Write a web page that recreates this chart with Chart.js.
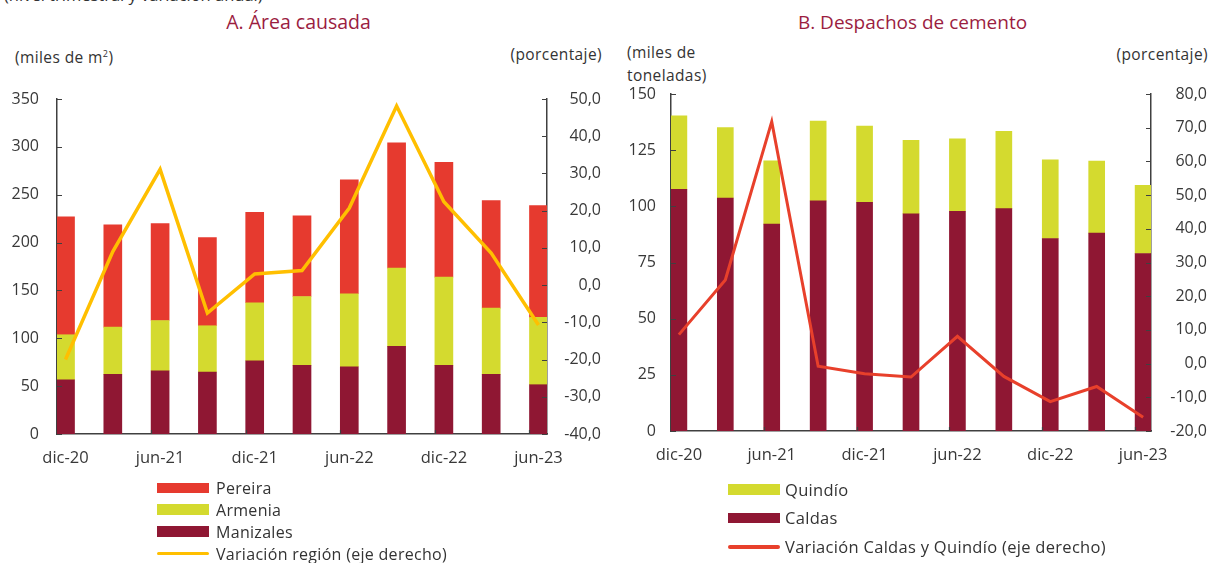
<!DOCTYPE html>
<html><head><meta charset="utf-8">
<script src="https://cdn.jsdelivr.net/npm/chart.js@4/dist/chart.umd.min.js"></script>
<style>
body{margin:0;background:#fff;width:1213px;height:563px;overflow:hidden;position:relative;font-family:"Open Sans",Lato,sans-serif;color:#333}
.t{position:absolute;white-space:nowrap}
.ax{font-size:15.5px;letter-spacing:0.4px}
.cv{position:absolute;top:0}
.sw{position:absolute}
</style></head><body>
<div class="t" style="left:4px;top:-14px;font-size:16.5px;line-height:17px">(nivel trimestral y variación anual)</div>
<div class="t" style="left:0;width:597px;text-align:center;top:9px;font-size:19.5px;line-height:26px;color:#9b1d3f">A. Área causada</div>
<div class="t" style="left:610px;width:605px;text-align:center;top:9px;font-size:19px;line-height:26px;color:#9b1d3f">B. Despachos de cemento</div>
<div class="t ax" style="left:15px;top:44px;line-height:20px">(miles de m<sup style="font-size:9px">2</sup>)</div>
<div class="t ax" style="right:611px;top:44px;line-height:20px">(porcentaje)</div>
<div class="t ax" style="left:627px;top:41px;line-height:23px">(miles de<br>toneladas)</div>
<div class="t ax" style="right:5px;top:44px;line-height:20px">(porcentaje)</div>
<canvas id="ca" class="cv" style="left:0" width="610" height="480"></canvas>
<canvas id="cb" class="cv" style="left:610px" width="603" height="480"></canvas>
<div id="legA"></div><div id="legB"></div>
<script>
// ---- data ----
const categories = ['dic-20','mar-21','jun-21','sep-21','dic-21','mar-22','jun-22','sep-22','dic-22','mar-23','jun-23'];
const tickIndices = [0,2,4,6,8,10];
// Panel A: área causada (miles de m2), stacked segments
const manizales = [56.7, 62.3, 66.1, 64.7, 76.5, 71.7, 70.3, 91.5, 71.7, 62.3, 51.5];
const armenia   = [47.0, 49.4, 52.5, 48.4, 60.6, 72.0, 76.2, 81.8, 92.2, 69.2, 70.3];
const pereira   = [123.2, 106.8, 101.3, 92.2, 94.6, 84.2, 119.0, 130.8, 120.0, 112.4, 116.9];
const variacionRegion = [-20.0, 9.0, 31.1, -7.5, 3.0, 3.9, 20.7, 48.1, 22.4, 8.6, -10.7];
// Panel B: despachos de cemento (miles de toneladas)
const caldas  = [107.6, 103.7, 92.1, 102.4, 101.8, 96.7, 97.8, 99.0, 85.7, 88.1, 79.0];
const quindio = [32.7, 31.4, 28.2, 35.5, 33.9, 32.7, 32.2, 34.4, 35.0, 32.0, 30.3];
const variacionCQ = [8.6, 24.8, 71.8, -0.8, -3.0, -4.0, 8.1, -3.8, -11.3, -6.8, -15.9];

// ---- styles ----
const C_RED = '#e63a2f', C_YEL = '#d4da2f', C_MAR = '#8f1733', C_GOLD = '#ffbf00', C_LRED = '#e8402b';
const AXIS = '#404040', TXT = '#383838', FONT = '"Open Sans", Lato, sans-serif';

const pts = arr => arr.map((v,i)=>({x:i,y:v}));
const fmt1 = v => v.toFixed(1).replace('.', ',');

function innerTicks(barHalf){
  return {
    id:'innerTicks',
    afterDatasetsDraw(chart){
      const ctx = chart.ctx, a = chart.chartArea, L = 5;
      const y = chart.scales.y, y1 = chart.scales.y1, x = chart.scales.x;
      ctx.save(); ctx.strokeStyle = AXIS; ctx.lineWidth = 1.2;
      ctx.beginPath();
      y.ticks.forEach(t=>{ const p = Math.round(y.getPixelForValue(t.value))+0.5; ctx.moveTo(a.left, p); ctx.lineTo(a.left+L, p); });
      y1.ticks.forEach(t=>{ const p = Math.round(y1.getPixelForValue(t.value))+0.5; ctx.moveTo(a.right-L, p); ctx.lineTo(a.right, p); });
      tickIndices.slice(1).forEach(i=>{ const p = Math.round(x.getPixelForValue(i) - barHalf)+0.5; ctx.moveTo(p, a.bottom); ctx.lineTo(p, a.bottom-4); });
      ctx.stroke(); ctx.restore();
    }
  };
}

function makeChart(id, cfg){
  const off = cfg.off;
  return new Chart(document.getElementById(id), {
    type:'bar',
    data:{ datasets: cfg.datasets },
    options:{
      responsive:false, animation:false,
      layout:{ padding: cfg.padding },
      plugins:{ legend:{display:false}, tooltip:{enabled:false} },
      scales:{
        x:{ type:'linear', stacked:true, offset:false, min:-off, max:categories.length-1+off,
            grid:{display:false, drawTicks:false, offset:false}, border:{display:true, color:AXIS, width:1.5},
            afterBuildTicks: s => { s.ticks = tickIndices.map(v=>({value:v})); },
            afterFit: s => { s.height = cfg.xh; },
            ticks:{ autoSkip:false, maxRotation:0, padding:cfg.xpad, color:TXT, font:{family:FONT, size:16.5},
                    callback: v => categories[v] } },
        y:{ position:'left', stacked:true, min:cfg.y.min, max:cfg.y.max,
            grid:{display:false, drawTicks:false}, border:{display:true, color:AXIS, width:1.5},
            afterFit: s => { s.width = cfg.yw; },
            ticks:{ stepSize:cfg.y.step, padding:cfg.ypad, color:TXT, font:{family:FONT, size:16} } },
        y1:{ position:'right', min:cfg.y1.min, max:cfg.y1.max,
            grid:{display:false, drawTicks:false}, border:{display:true, color:AXIS, width:1.5},
            afterFit: s => { s.width = cfg.y1w; },
            ticks:{ stepSize:cfg.y1.step, crossAlign:'far', color:TXT, font:{family:FONT, size:16}, callback: fmt1 } }
      }
    },
    plugins:[innerTicks(cfg.bar/2)]
  });
}

const barDs = (label, data, color, bar) => ({ type:'bar', label, data:pts(data), backgroundColor:color, barThickness:bar, yAxisID:'y', order:1 });
const lineDs = (label, data, color, w) => ({ type:'line', label, data:pts(data), borderColor:color, borderWidth:w, pointRadius:0, tension:0, yAxisID:'y1', order:0, stack:'line' });

makeChart('ca', {
  off:0.18, bar:18, padding:{top:99, left:0, right:9, bottom:0}, xh:46, xpad:14, yw:57, ypad:18, y1w:54,
  y:{min:0,max:350,step:50}, y1:{min:-40,max:50,step:10},
  datasets:[ lineDs('Variación región (eje derecho)', variacionRegion, C_GOLD, 3.5),
             barDs('Manizales', manizales, C_MAR, 18), barDs('Armenia', armenia, C_YEL, 18), barDs('Pereira', pereira, C_RED, 18) ]
});
makeChart('cb', {
  off:0.17, bar:16, padding:{top:94, left:0, right:6, bottom:0}, xh:49, xpad:14, yw:61, ypad:15, y1w:56,
  y:{min:0,max:150,step:25}, y1:{min:-20,max:80,step:10},
  datasets:[ lineDs('Variación Caldas y Quindío (eje derecho)', variacionCQ, C_LRED, 3),
             barDs('Caldas', caldas, C_MAR, 16), barDs('Quindío', quindio, C_YEL, 16) ]
});

// ---- HTML legends ----
function legend(el, items, sx, sw, tx, fs, ls){
  let h = '';
  items.forEach(it=>{
    const hh = it.line ? 3.5 : 10.5;
    h += `<div class="sw" style="left:${sx}px;top:${it.cy-hh/2}px;width:${sw}px;height:${hh}px;background:${it.color};${it.line?'border-radius:2px':''}"></div>`;
    h += `<div class="t" style="left:${tx}px;top:${it.cy-11}px;line-height:22px;font-size:${fs}px;letter-spacing:${ls}px">${it.label}</div>`;
  });
  document.getElementById(el).innerHTML = h;
}
legend('legA', [
  {label:'Pereira', color:C_RED, cy:488},
  {label:'Armenia', color:C_YEL, cy:509.5},
  {label:'Manizales', color:C_MAR, cy:531.5},
  {label:'Variación región (eje derecho)', color:C_GOLD, cy:553.5, line:true}
], 157, 52, 216, 16, 0.3);
legend('legB', [
  {label:'Quindío', color:C_YEL, cy:489.5},
  {label:'Caldas', color:C_MAR, cy:518},
  {label:'Variación Caldas y Quindío (eje derecho)', color:C_LRED, cy:547, line:true}
], 728, 52, 785, 16.5, 0.3);
</script>
</body></html>
